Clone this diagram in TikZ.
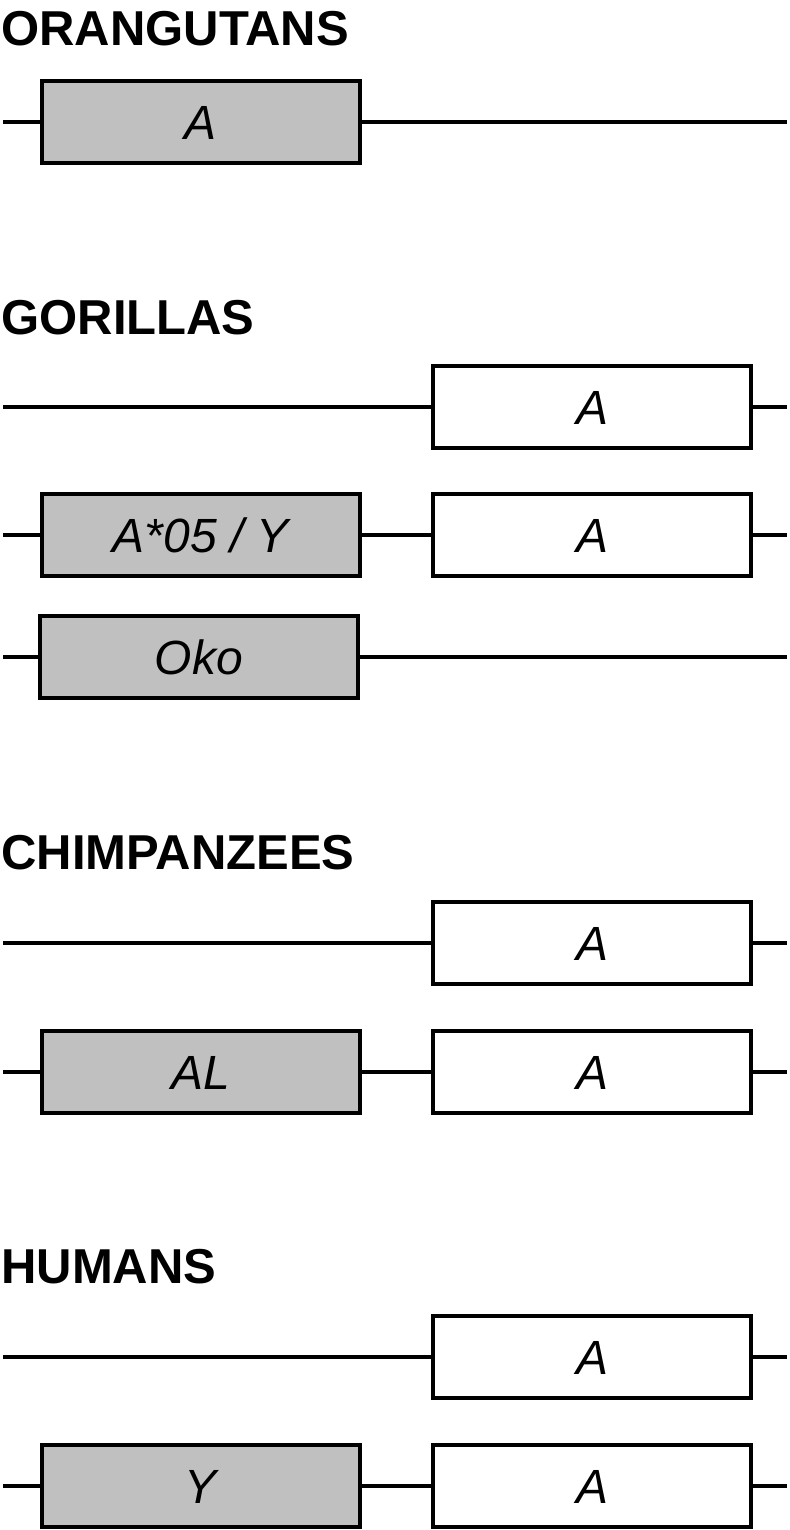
\documentclass[tikz,border=0pt]{standalone}
\usepackage{fontspec}
\setmainfont{Liberation Sans}
\usetikzlibrary{positioning}

\definecolor{exongray}{HTML}{C0C0C0}

\begin{document}
\begin{tikzpicture}[
    x=0.5pt, y=-0.5pt,
    ttl/.style={anchor=base west, inner sep=0pt, font=\fontsize{24.5}{28}\selectfont\bfseries},
    gene/.style={rectangle, draw, line width=2.2pt, minimum width=159pt, minimum height=41pt,
                 inner sep=0pt, text height=17.5pt, text depth=0pt,
                 font=\fontsize{24}{28}\selectfont\itshape},
    old/.style={gene, fill=exongray},
    new/.style={gene, fill=white},
    ln/.style={line width=2.2pt},
  ]
  \useasboundingbox (0,0) rectangle (790,1530);

  % orangutans
  \node[ttl] (tor) at (1, 46) {ORANGUTANS};
  \coordinate (o1l) at (3, 122);
  \coordinate (o1r) at (787, 122);
  \node[old] (o1a) at (201, 122) {A};
  \draw[ln] (o1l) -- (o1a);
  \draw[ln] (o1a) -- (o1r);

  % gorillas
  \node[ttl] (tgo) at (1, 334) {GORILLAS};
  \coordinate (g1l) at (3, 407);
  \coordinate (g1r) at (787, 407);
  \node[new] (g1b) at (592, 407) {A};
  \draw[ln] (g1l) -- (g1b);
  \draw[ln] (g1b) -- (g1r);

  \coordinate (g2l) at (3, 535);
  \coordinate (g2r) at (787, 535);
  \node[old] (g2a) at (201, 535) {A*05 / Y};
  \node[new] (g2b) at (592, 535) {A};
  \draw[ln] (g2l) -- (g2a);
  \draw[ln] (g2a) -- (g2b);
  \draw[ln] (g2b) -- (g2r);

  \coordinate (g3l) at (3, 657);
  \coordinate (g3r) at (787, 657);
  \node[old] (g3a) at (199, 657) {Oko};
  \draw[ln] (g3l) -- (g3a);
  \draw[ln] (g3a) -- (g3r);

  % chimpanzees
  \node[ttl] (tch) at (1, 869) {CHIMPANZEES};
  \coordinate (c1l) at (3, 943);
  \coordinate (c1r) at (787, 943);
  \node[new] (c1b) at (592, 943) {A};
  \draw[ln] (c1l) -- (c1b);
  \draw[ln] (c1b) -- (c1r);

  \coordinate (c2l) at (3, 1072);
  \coordinate (c2r) at (787, 1072);
  \node[old] (c2a) at (201, 1072) {AL};
  \node[new] (c2b) at (592, 1072) {A};
  \draw[ln] (c2l) -- (c2a);
  \draw[ln] (c2a) -- (c2b);
  \draw[ln] (c2b) -- (c2r);

  % humans
  \node[ttl] (thu) at (1, 1283) {HUMANS};
  \coordinate (h1l) at (3, 1357);
  \coordinate (h1r) at (787, 1357);
  \node[new] (h1b) at (592, 1357) {A};
  \draw[ln] (h1l) -- (h1b);
  \draw[ln] (h1b) -- (h1r);

  \coordinate (h2l) at (3, 1486);
  \coordinate (h2r) at (787, 1486);
  \node[old] (h2a) at (201, 1486) {Y};
  \node[new] (h2b) at (592, 1486) {A};
  \draw[ln] (h2l) -- (h2a);
  \draw[ln] (h2a) -- (h2b);
  \draw[ln] (h2b) -- (h2r);
\end{tikzpicture}
\end{document}
